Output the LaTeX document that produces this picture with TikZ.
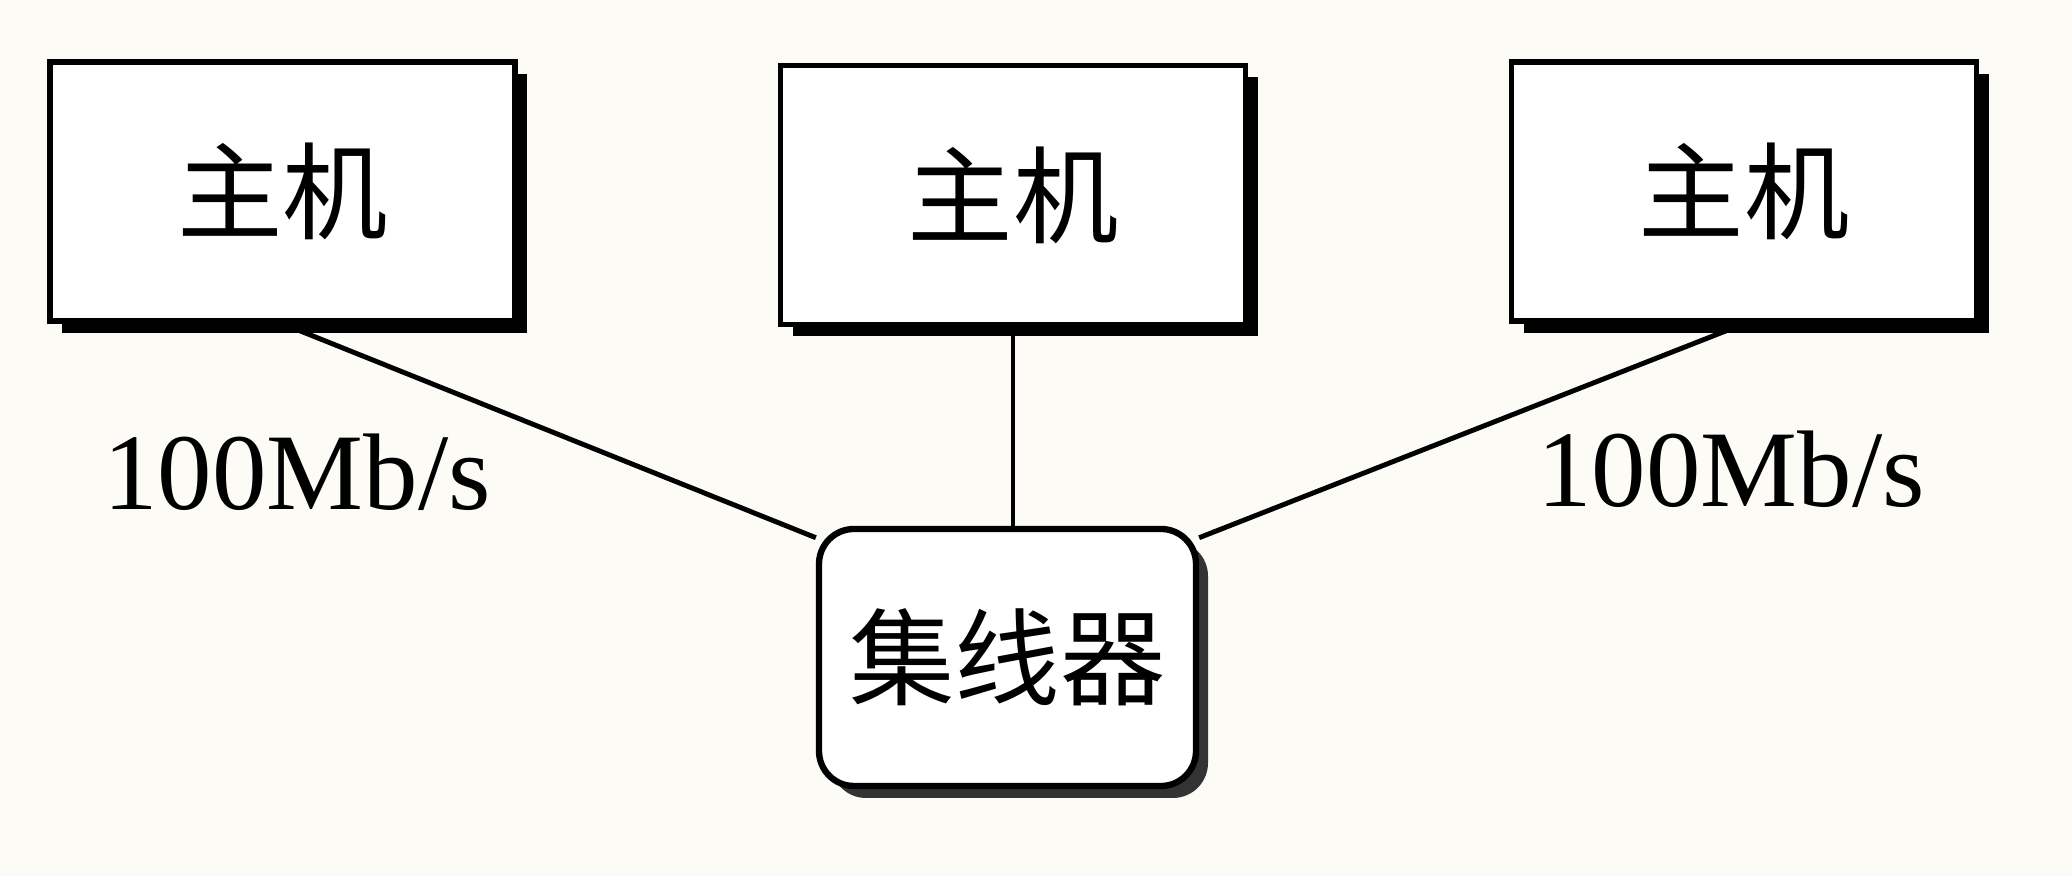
\documentclass[tikz,border=0pt]{standalone}
\usepackage{fontspec}
\setmainfont{Liberation Serif}
\newfontfamily\cjk{Noto Sans CJK SC}
\usepackage{tikz}
\usetikzlibrary{positioning}
\usetikzlibrary{shadows}

\definecolor{paper}{RGB}{252,251,246}

\begin{document}
\begin{tikzpicture}[
    host/.style={draw, line width=1.6pt, fill=white, minimum width=4.65cm, minimum height=2.59cm,
      font=\cjk\fontsize{30}{30}\selectfont,
      drop shadow={shadow xshift=0.12cm, shadow yshift=-0.12cm, fill=black, opacity=1}},
    hubbox/.style={draw, line width=1.8pt, fill=white, rounded corners=0.35cm,
      minimum width=3.77cm, minimum height=2.57cm, font=\cjk\fontsize{30}{30}\selectfont,
      drop shadow={shadow xshift=0.12cm, shadow yshift=-0.12cm, fill=black!80, opacity=1}},
    rate/.style={font=\fontsize{31}{31}\selectfont},
    link/.style={line width=1.4pt}]

  \fill[paper] (0,0) rectangle (20.72,8.76);
  \useasboundingbox (0,0) rectangle (20.72,8.76);

  \node[host] (host1) at (2.825,6.845) {主机};
  \node[host] (host2) at (10.13,6.81) {主机};
  \node[host] (host3) at (17.44,6.845) {主机};

  \node[hubbox] (hub) at (10.075,2.185) {集线器};

  \draw[link] (host1.south) -- (hub.148);
  \draw[link] (host2.south) -- (host2.south |- hub.north);
  \draw[link] (host3.south) -- (hub.32);

  \node[rate] (rate1) at (2.97,4.04) {100Mb/s};
  \node[rate] (rate3) at (17.31,4.07) {100Mb/s};

\end{tikzpicture}
\end{document}
